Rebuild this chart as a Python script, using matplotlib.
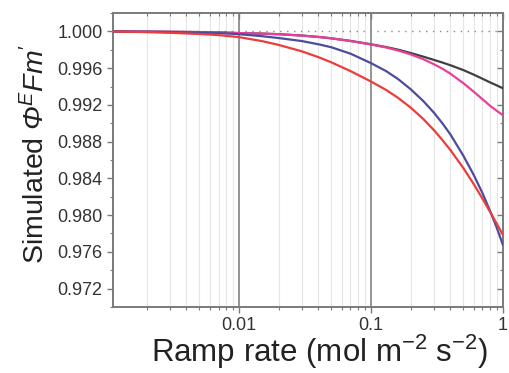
import numpy as np
import matplotlib
matplotlib.use('Agg')
import matplotlib.pyplot as plt
from matplotlib.ticker import FixedLocator, LogLocator, NullFormatter, MultipleLocator

plt.rcParams['font.family'] = ['Liberation Sans', 'DejaVu Sans']
plt.rcParams['mathtext.fontset'] = 'custom'
plt.rcParams['mathtext.rm'] = 'Liberation Sans'
plt.rcParams['mathtext.it'] = 'Liberation Sans:italic'
# italic greek capital: mathtext forces \mathit greek caps upright, so use sf slot
plt.rcParams['mathtext.sf'] = 'Liberation Sans:italic'

# ramp rate (mol m-2 s-2)
ramp = [0.001, 0.002, 0.003, 0.005, 0.007, 0.01, 0.015, 0.02, 0.03, 0.04, 0.05,
        0.07, 0.1, 0.13, 0.16, 0.2, 0.25, 0.3, 0.35, 0.4, 0.5, 0.6, 0.7, 0.8,
        0.9, 1.0]

black_y = [1.00000, 0.99998, 0.99996, 0.99993, 0.99989, 0.99982, 0.99976, 0.99970,
           0.99955, 0.99940, 0.99925, 0.99897, 0.99860, 0.99830, 0.99802, 0.99765,
           0.99725, 0.99690, 0.99660, 0.99632, 0.99580, 0.99530, 0.99485, 0.99445,
           0.99412, 0.99381]
magenta_y = [1.00000, 0.99998, 0.99996, 0.99993, 0.99989, 0.99982, 0.99976, 0.99970,
             0.99955, 0.99940, 0.99925, 0.99895, 0.99858, 0.99825, 0.99793, 0.99750,
             0.99697, 0.99643, 0.99592, 0.99540, 0.99438, 0.99345, 0.99262, 0.99190,
             0.99135, 0.99088]
blue_y = [1.00000, 0.99996, 0.99993, 0.99988, 0.99982, 0.99970, 0.99948, 0.99928,
          0.99895, 0.99860, 0.99828, 0.99758, 0.99655, 0.99569, 0.99483, 0.99371,
          0.99240, 0.99116, 0.98995, 0.98879, 0.98650, 0.98440, 0.98240, 0.98045,
          0.97860, 0.97677]
red_y = [1.00000, 0.99992, 0.99985, 0.99972, 0.99960, 0.99938, 0.99894, 0.99853,
         0.99783, 0.99720, 0.99664, 0.99568, 0.99455, 0.99364, 0.99278, 0.99171,
         0.99045, 0.98926, 0.98813, 0.98709, 0.98515, 0.98340, 0.98180, 0.98035,
         0.97905, 0.97786]

fig = plt.figure(figsize=(5.09, 3.73), dpi=100)
ax = fig.add_axes([0.222, 0.177, 0.766, 0.788])

# grid: light minor, darker major verticals
for d in [0.001, 0.01, 0.1]:
    for k in range(2, 10):
        ax.axvline(d * k, color='#e6e6e6', lw=0.8, zorder=0)
for v in [0.01, 0.1]:
    ax.axvline(v, color='#8c8c8c', lw=1.3, zorder=1)
ax.axhline(1.0, color='#888888', lw=1.0, ls=(0, (1, 4)), zorder=1)

ax.plot(ramp, black_y, color='#404040', lw=1.6, zorder=3)
ax.plot(ramp, magenta_y, color='#e8409a', lw=1.6, zorder=3)
ax.plot(ramp, blue_y, color='#4c4c9c', lw=1.6, zorder=3)
ax.plot(ramp, red_y, color='#ec3c3c', lw=1.6, zorder=3)

ax.set_xscale('log')
ax.set_xlim(0.00111, 1.0)
ax.set_ylim(0.9700, 1.0020)

ax.xaxis.set_major_locator(FixedLocator([0.01, 0.1, 1]))
ax.set_xticklabels(['0.01', '0.1', '1'])
ax.xaxis.set_minor_locator(LogLocator(base=10, subs=np.arange(2, 10)))
ax.xaxis.set_minor_formatter(NullFormatter())
yt = np.arange(0.972, 1.0005, 0.004)
ax.yaxis.set_major_locator(FixedLocator(yt))
ax.set_yticklabels(['%.3f' % v for v in yt])
ax.yaxis.set_minor_locator(MultipleLocator(0.002))

for s in ax.spines.values():
    s.set_color('#7a7a7a')
    s.set_linewidth(1.4)

ax.tick_params(which='both', direction='out', color='#7a7a7a', labelcolor='#333333',
               labelsize=13, top=True, right=True)
ax.tick_params(which='major', length=4, width=1.0)
ax.tick_params(which='minor', length=2.5, width=0.8)
ax.tick_params(axis='x', pad=3)
for t in ax.xaxis.get_major_ticks() + ax.xaxis.get_minor_ticks():
    t.tick2line.set_marker(3)
for t in ax.yaxis.get_major_ticks() + ax.yaxis.get_minor_ticks():
    t.tick2line.set_marker(0)

ax.set_xlabel(r'Ramp rate (mol m$^{-2}$ s$^{-2}$)', fontsize=22.5, color='#222222')
ax.xaxis.set_label_coords(0.53, -0.088)
ax.set_ylabel(r"Simulated $\mathsf{Φ}^{\mathsf{E}}\mathsf{Fm}'$", fontsize=20.5, color='#222222')
ax.yaxis.set_label_coords(-0.16, 0.52)

fig.savefig('out.png', dpi=100)
